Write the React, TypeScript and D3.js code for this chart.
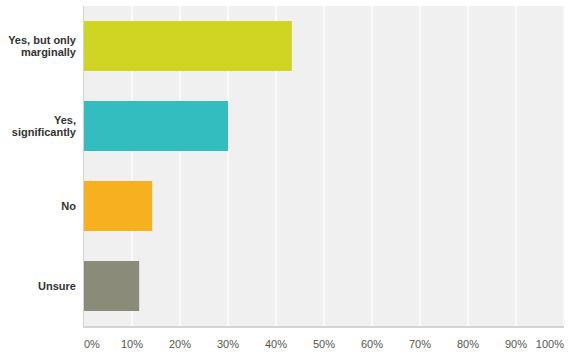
import React from "react";
import * as d3 from "d3";

const categories = ["Yes, but only marginally", "Yes, significantly", "No", "Unsure"];
const labelLines = [["Yes, but only", "marginally"], ["Yes,", "significantly"], ["No"], ["Unsure"]];
const values = [43.3, 30.0, 14.2, 11.5];
const colors = ["#d0d524", "#33bdbf", "#f7b01f", "#8b8b7a"];
const ticks = [0, 10, 20, 30, 40, 50, 60, 70, 80, 90, 100];

const W = 572, H = 360;
const m = { left: 84, right: 8, top: 6, bottom: 34 };

export default function App() {
  const x = d3.scaleLinear().domain([0, 100]).range([m.left, W - m.right]);
  const y = d3.scaleBand().domain(categories).range([m.top, H - m.bottom]).paddingInner(0.375).paddingOuter(0.1875);
  const font = "Arial, 'Liberation Sans', sans-serif";
  return (
    <svg width={W} height={H} style={{ position: "absolute", left: 0, top: 0, background: "#fff" }}>
      <rect x={m.left} y={m.top} width={x(100) - m.left} height={H - m.bottom - m.top} fill="#f0f0f0" />
      {ticks.slice(1).map((t) => (
        <line key={t} x1={x(t)} x2={x(t)} y1={m.top} y2={H - m.bottom} stroke="#fafafa" strokeWidth={2} />
      ))}
      {categories.map((c, i) => (
        <rect key={c} x={x(0)} y={y(c)} width={x(values[i]) - x(0)} height={y.bandwidth()} fill={colors[i]} />
      ))}
      <line x1={m.left - 0.5} x2={m.left - 0.5} y1={m.top} y2={H - m.bottom} stroke="#d4d4d4" strokeWidth={1} />
      <line x1={m.left - 1} x2={x(100)} y1={H - m.bottom + 1} y2={H - m.bottom + 1} stroke="#d4d4d4" strokeWidth={2} />
      {categories.map((c, i) => {
        const lines = labelLines[i];
        const cy = (y(c) as number) + y.bandwidth() / 2;
        const lh = 12;
        return (
          <text key={c} x={76} textAnchor="end" fontFamily={font} fontSize={11} fontWeight="bold" fill="#333">
            {lines.map((l, j) => (
              <tspan key={j} x={76} y={cy + (j - (lines.length - 1) / 2) * lh} dy="0.35em">{l}</tspan>
            ))}
          </text>
        );
      })}
      {ticks.map((t, i) => (
        <text
          key={t}
          x={i === 0 ? x(t) : i === ticks.length - 1 ? x(t) : x(t)}
          y={344}
          dy="0.35em"
          textAnchor={i === 0 ? "start" : i === ticks.length - 1 ? "end" : "middle"}
          fontFamily={font}
          fontSize={11}
          fill="#555"
        >
          {t + "%"}
        </text>
      ))}
    </svg>
  );
}
